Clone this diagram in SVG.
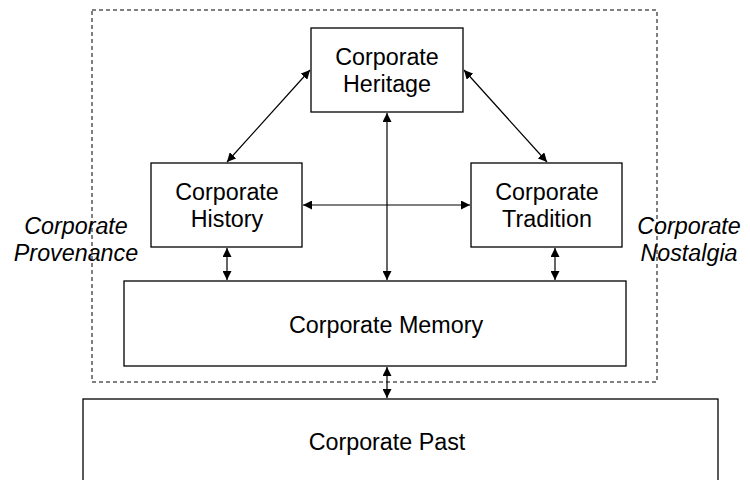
<svg xmlns="http://www.w3.org/2000/svg" width="750" height="480" viewBox="0 0 750 480">
<defs>
<style>
.box{fill:#fff;stroke:#000;stroke-width:1.3}
.t{font-family:"Liberation Sans",Arial,sans-serif;font-size:23.3px;fill:#000;text-anchor:middle}
.i{font-style:italic}
.c{stroke:#000;stroke-width:1.2;fill:none;marker-start:url(#a);marker-end:url(#a)}
</style>
<marker id="a" viewBox="0 0 10 10" refX="10" refY="5" markerWidth="9" markerHeight="9" markerUnits="userSpaceOnUse" orient="auto-start-reverse">
<path d="M0,0 L10,5 L0,10 z" fill="#000"/>
</marker>
</defs>
<rect x="92" y="10" width="565" height="372" fill="none" stroke="#000" stroke-width="1" stroke-dasharray="4,3"/>
<g id="provenance"><text class="t i" x="76" y="234">Corporate</text><text class="t i" x="76" y="261">Provenance</text></g>
<g id="nostalgia"><text class="t i" x="689" y="234">Corporate</text><text class="t i" x="689" y="261">Nostalgia</text></g>
<g id="heritage"><rect class="box" x="311" y="28" width="152" height="84"/><text class="t" x="387" y="65">Corporate</text><text class="t" x="387" y="92">Heritage</text></g>
<g id="history"><rect class="box" x="151" y="163" width="151" height="84"/><text class="t" x="227" y="200">Corporate</text><text class="t" x="227" y="227">History</text></g>
<g id="tradition"><rect class="box" x="471" y="163" width="151" height="84"/><text class="t" x="547" y="200">Corporate</text><text class="t" x="547" y="227">Tradition</text></g>
<g id="memory"><rect class="box" x="124" y="281" width="502" height="85"/><text class="t" x="386" y="333">Corporate Memory</text></g>
<g id="past"><rect class="box" x="83" y="399" width="635" height="90"/><text class="t" x="387" y="450">Corporate Past</text></g>
<g id="connectors">
<line class="c" x1="227" y1="162" x2="310" y2="70"/>
<line class="c" x1="547" y1="162" x2="464" y2="70"/>
<line class="c" x1="387" y1="113" x2="387" y2="280"/>
<line class="c" x1="303" y1="205" x2="470" y2="205"/>
<line class="c" x1="227" y1="248" x2="227" y2="280"/>
<line class="c" x1="555" y1="248" x2="555" y2="280"/>
<line class="c" x1="387" y1="367" x2="387" y2="398"/>
</g>
</svg>
